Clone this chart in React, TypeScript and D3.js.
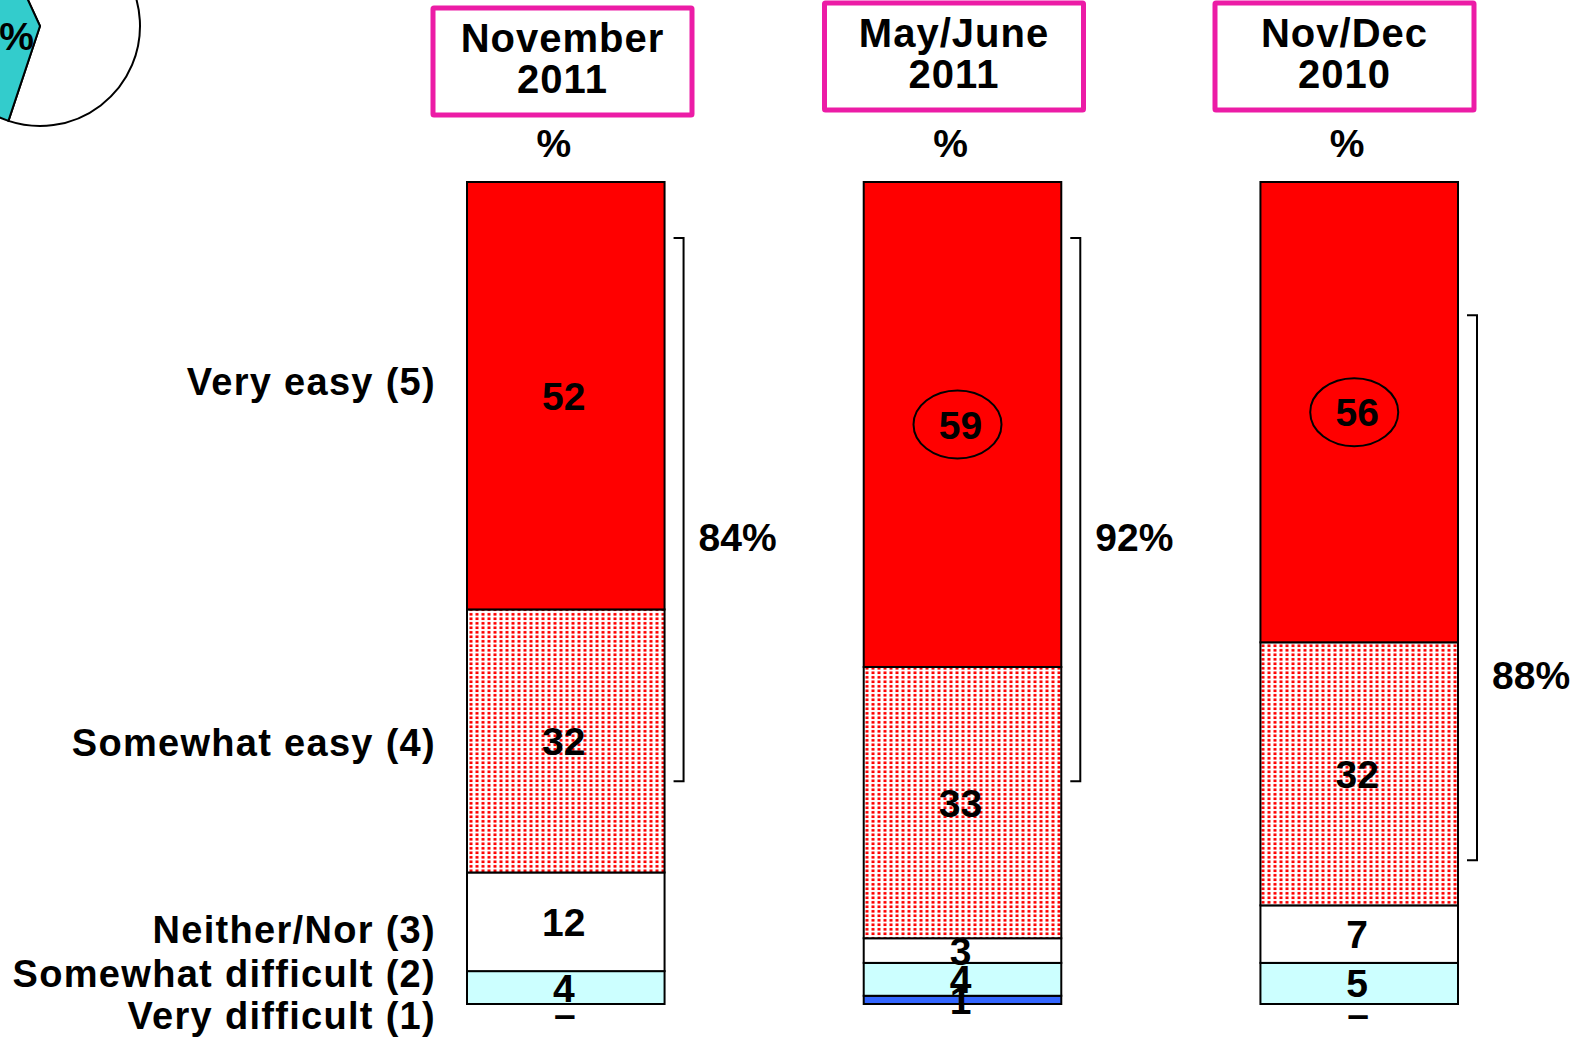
import React from "react"
import * as d3 from "d3"

// periods (one bar each), header text split in two lines
const periods = ["Nov 2011", "MayJun 2011", "NovDec 2010"]
const headerTop = ["November", "May/June", "Nov/Dec"]
const headerBottom = ["2011", "2011", "2010"]

// answer categories, bottom of stack first
const keys = ["veryDifficult", "somewhatDifficult", "neither", "somewhatEasy", "veryEasy"]
const categoryLabels = [
  "Very difficult (1)",
  "Somewhat difficult (2)",
  "Neither/Nor (3)",
  "Somewhat easy (4)",
  "Very easy (5)",
]

// values in %, null = shown as a dash
const veryDifficult = [null, 1, null]
const somewhatDifficult = [4, 4, 5]
const neither = [12, 3, 7]
const somewhatEasy = [32, 33, 32]
const veryEasy = [52, 59, 56]

// net easy bracket
const netEasy = ["84%", "92%", "88%"]
const bracketTop = [93.2, 93.2, 83.8]
const bracketBottom = [27.1, 27.1, 17.5]
const netLabelAt = [56.8, 56.8, 40]

const circled = [false, true, true]

// cut off pie from the previous slide
const pieValues = [62, 38]

const fills = ["#3366FF", "#CCFFFF", "#FFFFFF", "url(#dots)", "#FF0000"]
const font = "'Liberation Sans', Arial, sans-serif"

export default function App() {
  const width = 1573
  const height = 1037

  const rows = periods.map((p, i) => ({
    period: p,
    veryDifficult: veryDifficult[i] ?? 0,
    somewhatDifficult: somewhatDifficult[i],
    neither: neither[i],
    somewhatEasy: somewhatEasy[i],
    veryEasy: veryEasy[i],
  }))
  const raw = [veryDifficult, somewhatDifficult, neither, somewhatEasy, veryEasy]

  const series = d3.stack().keys(keys)(rows as any)

  const x = d3.scaleBand().domain(periods).range([467, 1458]).paddingInner(0.502).paddingOuter(0)
  const y = d3.scaleLinear().domain([0, 100]).range([1004, 182])
  const bw = x.bandwidth()

  // category label positions on the left
  const catY = [1015, 973, 929, 742, 381]

  const pie = d3.pie<number>().sort(null).startAngle((-24.8 * Math.PI) / 180).endAngle(((360 - 24.8) * Math.PI) / 180)
  const arcs = pie(pieValues)
  const arc = d3.arc<any>().innerRadius(0).outerRadius(100)

  const headerY = [8, 3, 3]
  const headerCx = [562.5, 954, 1344.5]

  return (
    <svg
      width={width}
      height={height}
      style={{ position: "absolute", left: 0, top: 0, display: "block", background: "#fff" }}
      fontFamily={font}
      fontWeight="bold"
    >
      <defs>
        <pattern id="dots" width={6} height={4.5} patternUnits="userSpaceOnUse">
          <rect width={6} height={4.5} fill="#fff" />
          <rect x={1.5} y={1} width={3} height={2.6} fill="#FF0000" />
        </pattern>
      </defs>

      {/* pie remnant */}
      <g transform="translate(40,26)">
        {arcs.map((a, i) => (
          <path key={i} d={arc(a) as string} fill={i === 0 ? "#FFFFFF" : "#33CCCC"} stroke="#000" strokeWidth={2} />
        ))}
      </g>
      <text x={34} y={50} textAnchor="end" fontSize={39}>%</text>

      {/* category labels */}
      {categoryLabels.map((c, i) => (
        <text key={c} x={436} y={catY[i]} dy="0.36em" textAnchor="end" fontSize={38} letterSpacing={1.3}>
          {c}
        </text>
      ))}

      {periods.map((p, j) => {
        const x0 = x(p) as number
        const cx = x0 + bw / 2
        return (
          <g key={p}>
            <rect
              x={headerCx[j] - 129.5}
              y={headerY[j]}
              width={259}
              height={107}
              fill="#fff"
              stroke="#EC1CA6"
              strokeWidth={5}
              rx={1}
            />
            <text x={headerCx[j]} y={headerY[j] + 44} textAnchor="middle" fontSize={40} letterSpacing={1}>
              {headerTop[j]}
            </text>
            <text x={headerCx[j]} y={headerY[j] + 85} textAnchor="middle" fontSize={40} letterSpacing={1}>
              {headerBottom[j]}
            </text>
            <text x={cx - 12} y={157} textAnchor="middle" fontSize={39}>%</text>

            {series.map((s, k) => {
              const d = s[j]
              if (raw[k][j] == null) return null
              return (
                <rect
                  key={k}
                  x={x0}
                  y={y(d[1])}
                  width={bw}
                  height={y(d[0]) - y(d[1])}
                  fill={fills[k]}
                  stroke="#000"
                  strokeWidth={2}
                />
              )
            })}

            {series.map((s, k) => {
              const d = s[j]
              const v = raw[k][j]
              if (v == null) {
                return (
                  <text key={"t" + k} x={cx - 1} y={1028} textAnchor="middle" fontSize={39}>
                    –
                  </text>
                )
              }
              const ly = (y(d[0]) + y(d[1])) / 2
              return (
                <g key={"t" + k}>
                  {k === 4 && circled[j] && (
                    <ellipse cx={cx - 5} cy={ly} rx={44} ry={34} fill="none" stroke="#000" strokeWidth={2} />
                  )}
                  <text x={cx - 2} y={ly} dy="0.36em" textAnchor="middle" fontSize={39}>
                    {v}
                  </text>
                </g>
              )
            })}

            {/* net easy bracket */}
            <path
              d={`M${x0 + bw + 9},${y(bracketTop[j])}H${x0 + bw + 19}V${y(bracketBottom[j])}H${x0 + bw + 9}`}
              fill="none"
              stroke="#000"
              strokeWidth={2}
            />
            <text x={x0 + bw + 34} y={y(netLabelAt[j])} dy="0.36em" fontSize={39}>
              {netEasy[j]}
            </text>
          </g>
        )
      })}
    </svg>
  )
}
